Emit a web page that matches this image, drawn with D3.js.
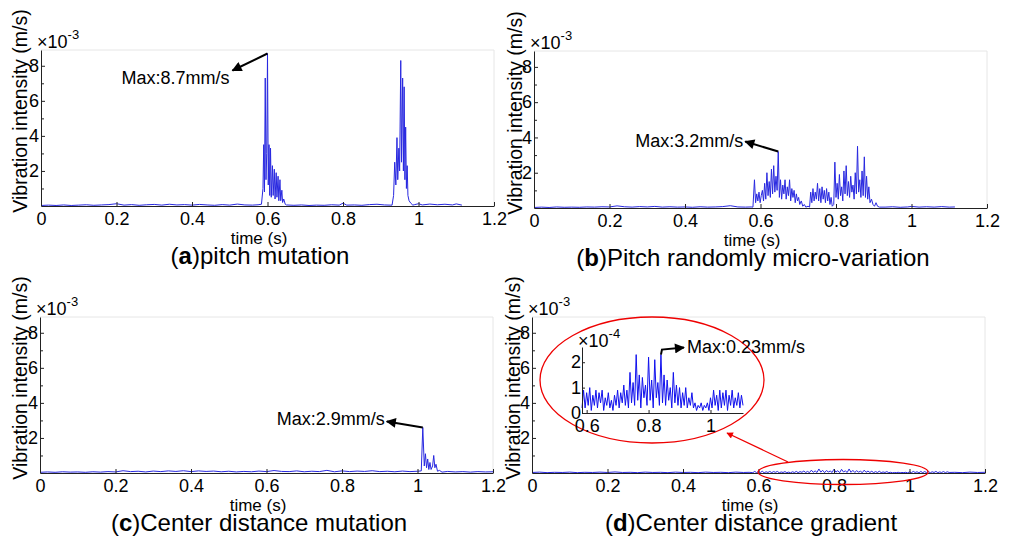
<!DOCTYPE html>
<html lang="en">
<head>
<meta charset="UTF-8">
<title>Vibration intensity</title>
<script src="https://d3js.org/d3.v7.min.js"></script>
<style>
  body { margin: 0; background: #fff; }
  text { font-family: "Liberation Sans", Arial, sans-serif; fill: #000; }
  .axis path, .axis line { stroke: #222; }
  .axis text { font-size: 18px; font-family: "Liberation Sans", Arial, sans-serif; }
</style>
</head>
<body>
<div id="chart"></div>
<script>
// ---- data (time in s, intensity in 1e-3 m/s; panel d in 1e-4 m/s) ----
const seriesA = [
  [0,0.03],[0.02,0.05],[0.04,0.03],[0.06,0.06],[0.08,0.03],[0.10,0.05],[0.12,0.07],[0.14,0.04],
  [0.16,0.06],[0.18,0.08],[0.20,0.13],[0.22,0.05],[0.24,0.08],[0.26,0.04],[0.28,0.07],[0.30,0.09],
  [0.32,0.05],[0.34,0.10],[0.36,0.06],[0.38,0.08],[0.40,0.05],[0.42,0.09],[0.44,0.06],[0.46,0.04],
  [0.48,0.08],[0.50,0.05],[0.52,0.11],[0.54,0.06],[0.56,0.05],[0.575,0.07],
  [0.584,0.1],[0.588,1.0],[0.590,3.5],[0.592,0.8],[0.594,7.3],[0.596,1.5],[0.598,3.0],[0.600,8.7],
  [0.602,1.2],[0.604,3.5],[0.606,0.6],[0.608,3.3],[0.610,0.5],[0.613,2.3],[0.615,0.6],[0.618,2.1],
  [0.620,0.4],[0.623,1.9],[0.625,0.5],[0.628,1.7],[0.630,0.3],[0.633,1.5],[0.635,0.3],[0.638,0.9],
  [0.640,0.2],[0.643,0.4],[0.647,0.1],
  [0.65,0.06],[0.67,0.04],[0.69,0.06],[0.71,0.03],[0.73,0.05],[0.75,0.04],[0.77,0.07],[0.79,0.05],
  [0.80,0.16],[0.81,0.05],[0.83,0.06],[0.85,0.04],[0.87,0.08],[0.89,0.10],[0.91,0.06],[0.925,0.05],
  [0.930,0.05],[0.934,0.6],[0.937,2.5],[0.940,1.2],[0.943,3.9],[0.945,1.5],[0.948,3.3],[0.950,2.0],
  [0.953,8.3],[0.955,2.5],[0.958,7.3],[0.960,2.0],[0.962,6.8],[0.964,1.5],[0.966,4.5],[0.968,1.0],
  [0.970,2.3],[0.972,0.6],[0.975,0.3],[0.980,0.15],[0.985,0.05],
  [0.99,0.08],[1.00,0.13],[1.01,0.06],[1.03,0.11],[1.05,0.07],[1.07,0.10],[1.09,0.06],[1.10,0.12],[1.115,0.05]
];

const seriesB = [
  [0,0.03],[0.02,0.05],[0.04,0.03],[0.06,0.06],[0.08,0.04],[0.10,0.05],[0.12,0.04],[0.14,0.06],
  [0.16,0.05],[0.18,0.07],[0.20,0.06],[0.22,0.12],[0.24,0.07],[0.26,0.05],[0.28,0.08],[0.30,0.06],
  [0.32,0.09],[0.34,0.05],[0.36,0.07],[0.38,0.05],[0.40,0.06],[0.42,0.04],[0.44,0.07],[0.46,0.05],
  [0.48,0.06],[0.50,0.08],[0.52,0.13],[0.54,0.06],[0.56,0.05],[0.575,0.06],
  [0.580,0.05],[0.584,1.6],[0.587,0.3],[0.590,0.8],[0.593,0.4],[0.596,0.9],[0.599,0.3],[0.602,0.7],
  [0.605,1.0],[0.608,0.4],[0.611,1.4],[0.614,0.5],[0.617,2.0],[0.620,0.7],[0.623,1.5],[0.626,0.6],
  [0.629,2.2],[0.632,0.8],[0.635,2.4],[0.638,0.9],[0.641,1.8],[0.644,1.0],[0.647,3.2],[0.650,0.6],
  [0.653,1.6],[0.656,0.5],[0.659,1.3],[0.662,0.8],[0.665,1.6],[0.668,0.5],[0.671,1.2],[0.674,0.7],
  [0.677,1.6],[0.680,0.4],[0.683,1.1],[0.686,0.6],[0.689,1.0],[0.692,0.3],[0.695,0.8],[0.698,0.4],
  [0.701,0.6],[0.704,0.2],[0.708,0.4],[0.712,0.1],[0.716,0.2],[0.720,0.05],[0.726,0.1],
  [0.730,0.05],[0.733,0.9],[0.736,0.3],[0.739,1.1],[0.742,0.4],[0.745,0.9],[0.748,0.5],[0.751,1.4],
  [0.754,0.4],[0.757,1.1],[0.760,0.3],[0.763,1.2],[0.766,0.5],[0.769,1.0],[0.772,0.3],[0.775,1.1],
  [0.778,0.4],[0.781,0.9],[0.784,0.2],[0.787,0.6],[0.790,0.1],
  [0.794,0.2],[0.797,2.6],[0.800,0.6],[0.803,1.4],[0.806,0.5],[0.809,1.9],[0.812,0.7],[0.815,1.2],
  [0.818,0.4],[0.821,2.1],[0.824,0.8],[0.827,2.4],[0.830,0.7],[0.833,1.5],[0.836,0.6],[0.839,1.8],
  [0.842,0.9],[0.845,1.3],[0.848,0.5],[0.851,2.0],[0.854,0.8],[0.857,3.5],[0.860,0.9],[0.863,1.6],
  [0.866,0.6],[0.869,2.1],[0.872,0.7],[0.875,2.9],[0.878,0.6],[0.881,1.8],[0.884,0.5],[0.887,1.2],
  [0.890,0.3],[0.894,0.5],[0.898,0.2],[0.902,0.1],[0.906,0.3],[0.910,0.1],[0.915,0.05],
  [0.93,0.05],[0.95,0.07],[0.97,0.04],[0.99,0.06],[1.00,0.09],[1.02,0.05],[1.04,0.07],[1.06,0.05],
  [1.08,0.08],[1.10,0.05],[1.115,0.06]
];

const seriesC = [
  [0,0.04],[0.02,0.06],[0.04,0.04],[0.06,0.07],[0.08,0.05],[0.10,0.06],[0.12,0.04],[0.14,0.07],
  [0.16,0.05],[0.18,0.08],[0.20,0.06],[0.22,0.13],[0.24,0.08],[0.26,0.10],[0.28,0.06],[0.30,0.11],
  [0.32,0.08],[0.34,0.12],[0.36,0.09],[0.38,0.13],[0.40,0.08],[0.42,0.12],[0.44,0.09],[0.46,0.11],
  [0.48,0.07],[0.50,0.10],[0.52,0.06],[0.54,0.09],[0.56,0.07],[0.58,0.11],[0.60,0.08],[0.62,0.14],
  [0.64,0.09],[0.66,0.08],[0.68,0.12],[0.70,0.07],[0.72,0.10],[0.74,0.08],[0.76,0.15],[0.78,0.07],
  [0.80,0.12],[0.82,0.08],[0.84,0.11],[0.86,0.09],[0.88,0.13],[0.90,0.08],[0.92,0.10],[0.94,0.07],
  [0.96,0.11],[0.98,0.08],[1.000,0.10],[1.010,0.12],
  [1.014,2.6],[1.018,0.4],[1.021,1.1],[1.024,0.3],[1.027,0.8],[1.030,0.2],[1.033,0.6],[1.036,0.2],
  [1.040,0.4],[1.043,1.0],[1.046,0.3],[1.049,0.5],[1.053,0.1],[1.058,0.15],[1.065,0.05],
  [1.08,0.09],[1.10,0.06],[1.12,0.08],[1.14,0.05],[1.16,0.08],[1.18,0.06],[1.20,0.07]
];

// panel d, values in 1e-4 m/s (drawn /10 on the main axes, as-is in the inset)
const seriesD = [
  [0,0.3],[0.02,0.5],[0.04,0.2],[0.06,0.4],[0.08,0.3],[0.10,0.5],[0.12,0.2],[0.14,0.4],
  [0.16,0.3],[0.18,0.5],[0.20,0.3],[0.22,0.6],[0.24,0.3],[0.26,0.4],[0.28,0.2],[0.30,0.5],
  [0.32,0.3],[0.34,0.4],[0.36,0.2],[0.38,0.5],[0.40,0.3],[0.42,0.4],[0.44,0.2],[0.46,0.5],
  [0.48,0.3],[0.50,0.4],[0.52,0.2],[0.54,0.5],[0.56,0.3],[0.575,0.4],
  [0.585,0.2],[0.590,0.9],[0.595,0.2],[0.600,0.8],[0.605,0.3],[0.610,1.0],[0.615,0.1],[0.620,0.7],
  [0.625,0.3],[0.630,0.9],[0.635,0.2],[0.640,0.8],[0.645,0.4],[0.650,0.9],[0.655,0.1],[0.660,0.6],
  [0.665,0.3],[0.670,0.8],[0.675,0.2],[0.680,0.5],[0.685,0.1],[0.690,0.7],[0.695,0.3],[0.700,0.9],
  [0.705,0.2],[0.710,0.8],[0.715,0.4],[0.720,1.1],[0.725,0.3],[0.730,0.9],[0.735,0.2],[0.740,1.6],
  [0.745,0.4],[0.750,1.2],[0.755,0.3],[0.760,2.3],[0.765,0.5],[0.770,1.5],[0.775,0.2],[0.780,1.4],
  [0.785,0.6],[0.790,1.1],[0.795,0.3],[0.800,2.2],[0.805,0.5],[0.810,1.3],[0.815,0.2],[0.820,2.1],
  [0.825,0.6],[0.830,1.2],[0.835,0.3],[0.840,2.3],[0.845,0.4],[0.850,1.5],[0.855,0.3],[0.860,1.3],
  [0.865,0.5],[0.870,1.0],[0.875,0.2],[0.880,1.6],[0.885,0.4],[0.890,1.1],[0.895,0.3],[0.900,1.0],
  [0.905,0.2],[0.910,0.8],[0.915,0.3],[0.920,1.0],[0.925,0.2],[0.930,0.6],[0.935,0.3],[0.940,0.8],
  [0.945,0.2],[0.950,0.4],[0.955,0.1],[0.960,0.3],[0.965,0.2],[0.970,0.4],[0.975,0.1],[0.980,0.3],
  [0.985,0.2],[0.990,0.4],[0.995,0.1],[1.000,0.6],[1.005,0.2],[1.010,0.9],[1.015,0.3],[1.020,0.7],
  [1.025,0.1],[1.030,0.9],[1.035,0.2],[1.040,0.8],[1.045,0.3],[1.050,0.9],[1.055,0.1],[1.060,0.7],
  [1.065,0.3],[1.070,0.9],[1.075,0.2],[1.080,0.6],[1.085,0.3],[1.090,0.8],[1.095,0.2],[1.100,0.7],
  [1.105,0.3],[1.12,0.4],[1.14,0.2],[1.16,0.5],[1.18,0.3],[1.20,0.4]
];

const xTicks = [0, 0.2, 0.4, 0.6, 0.8, 1, 1.2];
const yMajor = [2, 4, 6, 8];
const yMinor = [1, 3, 5, 7];
const insetXTicks = [0.6, 0.8, 1];
const insetYTicks = [0, 1, 2];
const letters = ["a", "b", "c", "d"];
const captions = [")pitch mutation", ")Pitch randomly micro-variation", ")Center distance mutation", ")Center distance gradient"];
const maxLabels = ["Max:8.7mm/s", "Max:3.2mm/s", "Max:2.9mm/s", "Max:0.23mm/s"];
const peaks = [[0.600, 8.7], [0.647, 3.2], [1.014, 2.6], [0.840, 2.3]];

// ---- layout ----
const W = 1010, H = 538;
const boxes = [
  { l: 41, r: 494, t: 50, b: 206, ylx: 20 },
  { l: 534, r: 987, t: 51, b: 208, ylx: 515 },
  { l: 40, r: 493, t: 317, b: 473, ylx: 20 },
  { l: 532, r: 985, t: 317, b: 473, ylx: 513 }
];
const blue = "#2828e0";

const svg = d3.select("#chart").append("svg")
  .attr("width", W).attr("height", H);

const defs = svg.append("defs");
function marker(id, color) {
  defs.append("marker").attr("id", id)
    .attr("viewBox", "0 0 10 10").attr("refX", 9).attr("refY", 5)
    .attr("markerWidth", 6).attr("markerHeight", 5).attr("orient", "auto")
    .attr("markerUnits", "strokeWidth")
    .append("path").attr("d", "M0,0L10,5L0,10z").attr("fill", color);
}
marker("headK", "#000");
marker("headR", "#e00");

// exponent label like "×10^-3"
function exponent(g, x0, y0, power) {
  const t = g.append("text").attr("x", x0).attr("y", y0).style("font-size", "18px");
  t.append("tspan").style("font-weight", "300").text("×10");
  t.append("tspan").attr("dy", -9).style("font-size", "13px").text(power);
}

const panels = [seriesA, seriesB, seriesC, seriesD.map(d => [d[0], d[1] / 10])];

panels.forEach((data, i) => {
  const bx = boxes[i];
  const x = d3.scaleLinear().domain([0, 1.2]).range([bx.l, bx.r]);
  const y = d3.scaleLinear().domain([0, 8.9]).range([bx.b, bx.t]);
  const g = svg.append("g");

  // faint frame on top/right
  g.append("path")
    .attr("d", `M${bx.l},${bx.t}H${bx.r}V${bx.b}`)
    .attr("fill", "none").attr("stroke", "#e6e6e6");

  // signal
  g.append("path").datum(data)
    .attr("fill", "none").attr("stroke", blue).attr("stroke-width", 1)
    .attr("d", d3.line().x(d => x(d[0])).y(d => y(d[1])));

  // axes, ticks pointing inward
  g.append("g").attr("class", "axis")
    .attr("transform", `translate(0,${bx.b})`)
    .call(d3.axisBottom(x).tickValues(xTicks).tickSize(-4).tickSizeOuter(0)
      .tickPadding(6).tickFormat(d3.format("~g")));
  g.append("g").attr("class", "axis")
    .attr("transform", `translate(${bx.l},0)`)
    .call(d3.axisLeft(y).tickValues(yMajor).tickSize(-4).tickSizeOuter(0).tickPadding(2));
  g.append("g").attr("class", "axis")
    .attr("transform", `translate(${bx.l},0)`)
    .call(d3.axisLeft(y).tickValues(yMinor).tickSize(-3).tickSizeOuter(0).tickFormat(""))
    .select(".domain").remove();

  exponent(g, bx.l - 4, bx.t - 2, "-3");

  // axis titles
  g.append("text")
    .attr("transform", `translate(${bx.ylx},${bx.b - 95}) rotate(-90)`)
    .attr("text-anchor", "middle").attr("dy", "0.35em")
    .style("font-size", "19.5px").text("Vibration intensity (m/s)");
  g.append("text").attr("x", bx.l + 218).attr("y", bx.b + 38)
    .attr("text-anchor", "middle").style("font-size", "17px").text("time (s)");

  const cap = g.append("text").attr("x", bx.l + 219).attr("y", bx.b + 58)
    .attr("text-anchor", "middle").style("font-size", "24px");
  cap.append("tspan").text("(");
  cap.append("tspan").style("font-weight", "bold").text(letters[i]);
  cap.append("tspan").text(captions[i]);

  // max annotations for a, b, c
  if (i < 3) {
    const offs = [[-35, 17], [-33, -10], [-36, -6]][i];
    const txt = [[-3, 13], [-2, 5], [-2, 4]][i];
    const px = x(peaks[i][0]), py = y(peaks[i][1]);
    g.append("line").attr("x1", px).attr("y1", py)
      .attr("x2", px + offs[0]).attr("y2", py + offs[1])
      .attr("stroke", "#000").attr("stroke-width", 2).attr("marker-end", "url(#headK)");
    g.append("text").attr("x", px + offs[0] + txt[0]).attr("y", py + offs[1] + txt[1])
      .attr("text-anchor", "end").style("font-size", "18px").text(maxLabels[i]);
  }

  if (i === 3) {
    // red ellipse around the zoomed region
    const cx = x(0.824), rx = 85;
    g.append("ellipse").attr("cx", cx).attr("cy", bx.b - 1).attr("rx", rx).attr("ry", 12.5)
      .attr("fill", "none").attr("stroke", "#e00").attr("stroke-width", 1.3);
    // big ellipse and inset
    g.append("ellipse").attr("cx", 652).attr("cy", 380).attr("rx", 112).attr("ry", 63)
      .attr("fill", "none").attr("stroke", "#e00").attr("stroke-width", 1.3);
    g.append("line").attr("x1", cx - 55).attr("y1", bx.b - 11).attr("x2", 727).attr("y2", 433)
      .attr("stroke", "#e00").attr("stroke-width", 1.3).attr("marker-end", "url(#headR)");

    const ix = d3.scaleLinear().domain([0.585, 1.105]).range([582, 743]);
    const iy = d3.scaleLinear().domain([0, 2.6]).range([413, 347]);
    const inset = seriesD.filter(d => d[0] >= 0.585 && d[0] <= 1.105);
    g.append("path").datum(inset)
      .attr("fill", "none").attr("stroke", "#1010ee").attr("stroke-width", 1)
      .attr("d", d3.line().x(d => ix(d[0])).y(d => iy(d[1])));
    g.append("g").attr("class", "axis").attr("transform", "translate(0,413)")
      .call(d3.axisBottom(ix).tickValues(insetXTicks).tickSize(-3).tickSizeOuter(0)
        .tickPadding(6).tickFormat(d3.format("~g")));
    g.append("g").attr("class", "axis").attr("transform", "translate(582,0)")
      .call(d3.axisLeft(iy).tickValues(insetYTicks).tickSize(-3).tickSizeOuter(0)
        .tickPadding(1).tickFormat(d3.format("~g")));
    exponent(g, 578, 347, "-4");

    const px = ix(peaks[3][0]), py = iy(peaks[3][1]);
    g.append("path")
      .attr("d", `M${px},${py}L${px + 1},${py - 5}L${px + 23},${py - 7}`)
      .attr("fill", "none").attr("stroke", "#000").attr("stroke-width", 2)
      .attr("marker-end", "url(#headK)");
    g.append("text").attr("x", px + 26).attr("y", py - 2)
      .style("font-size", "18px").text(maxLabels[3]);
  }
});
</script>
</body>
</html>
